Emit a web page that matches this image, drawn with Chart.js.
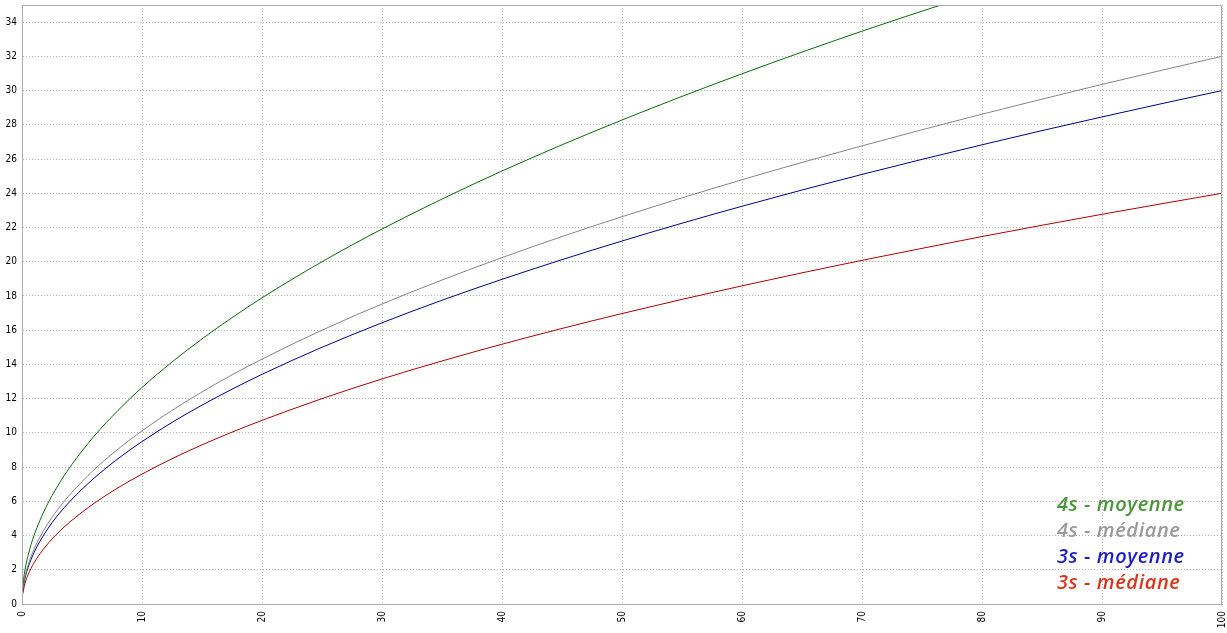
<!DOCTYPE html>
<html>
<head>
<meta charset="utf-8">
<script src="https://cdn.jsdelivr.net/npm/chart.js@4/dist/chart.umd.min.js"></script>
<style>
  html, body { margin: 0; padding: 0; background: #fff; }
  #wrap { width: 1227px; height: 633px; }
</style>
</head>
<body>
<div id="wrap"><canvas id="chart" width="1227" height="633"></canvas></div>
<script>
// == données == //
const X_VALUES = [0, 0.25, 0.5, 1, 2, 3, 4, 6, 8, 10, 12.5, 15, 17.5, 20, 25, 30, 35, 40, 45, 50, 55, 60, 65, 70, 75, 80, 85, 90, 95, 100];

const MOY_4S = [0.8, 2.0, 2.83, 4.0, 5.66, 6.93, 8.0, 9.8, 11.31, 12.65, 14.14, 15.49, 16.73, 17.89, 20.0, 21.91, 23.66, 25.3, 26.83, 28.28, 29.66, 30.98, 32.25, 33.47, 34.64, 35.78, 36.88, 37.95, 38.99, 40.0];
const MED_4S = [0.6, 1.6, 2.26, 3.2, 4.53, 5.54, 6.4, 7.84, 9.05, 10.12, 11.31, 12.39, 13.39, 14.31, 16.0, 17.53, 18.93, 20.24, 21.47, 22.63, 23.73, 24.79, 25.8, 26.77, 27.71, 28.62, 29.5, 30.36, 31.19, 32.0];
const MOY_3S = [0.5, 1.5, 2.12, 3.0, 4.24, 5.2, 6.0, 7.35, 8.49, 9.49, 10.61, 11.62, 12.55, 13.42, 15.0, 16.43, 17.75, 18.97, 20.12, 21.21, 22.25, 23.24, 24.19, 25.1, 25.98, 26.83, 27.66, 28.46, 29.24, 30.0];
const MED_3S = [0.4, 1.2, 1.7, 2.4, 3.39, 4.16, 4.8, 5.88, 6.79, 7.59, 8.49, 9.3, 10.04, 10.73, 12.0, 13.15, 14.2, 15.18, 16.1, 16.97, 17.8, 18.59, 19.35, 20.08, 20.78, 21.47, 22.13, 22.77, 23.39, 24.0];

const SERIES_NAMES = ['4s - moyenne', '4s - médiane', '3s - moyenne', '3s - médiane'];
const LINE_COLORS = ['#0a6a0a', '#858585', '#00008a', '#b00000'];
const TEXT_COLORS = ['#4a963a', '#9a9a9a', '#1e1ec8', '#d8361c'];

const TICK_FONT = { family: '"DejaVu Sans Condensed", "DejaVu Sans", sans-serif', size: 10 };

function toPoints(values) {
  return X_VALUES.map((x, i) => ({ x: x, y: values[i] }));
}

const ALL_SERIES = [MOY_4S, MED_4S, MOY_3S, MED_3S];

// pas de marge automatique autour des axes
function noPadding(axis) {
  axis.paddingTop = 0;
  axis.paddingBottom = 0;
  axis.paddingLeft = 0;
  axis.paddingRight = 0;
}

// == légende dans la zone du graphique == //
const legendInside = {
  id: 'legendInside',
  afterDraw(chart) {
    const ctx = chart.ctx;
    const area = chart.chartArea;
    ctx.save();
    // bordure haut / droite
    ctx.strokeStyle = '#adadad';
    ctx.lineWidth = 1;
    ctx.strokeRect(area.left + 0.5, area.top + 0.5, area.right - area.left - 1, area.bottom - area.top);
    ctx.font = 'italic 600 20px "Open Sans"';
    ctx.letterSpacing = '0.6px';
    ctx.textAlign = 'left';
    ctx.textBaseline = 'alphabetic';
    SERIES_NAMES.forEach((name, i) => {
      ctx.fillStyle = TEXT_COLORS[i];
      ctx.fillText(name, 1057, 511 + i * 26);
    });
    ctx.restore();
  }
};

new Chart(document.getElementById('chart'), {
  type: 'line',
  data: {
    datasets: ALL_SERIES.map((s, i) => ({
      label: SERIES_NAMES[i],
      data: toPoints(s),
      borderColor: LINE_COLORS[i],
      borderWidth: 1,
      pointRadius: 0,
      cubicInterpolationMode: 'monotone',
      fill: false
    }))
  },
  options: {
    responsive: false,
    animation: false,
    layout: { padding: { top: 5, right: 5, left: 0, bottom: 0 } },
    plugins: {
      legend: { display: false },
      tooltip: { enabled: false }
    },
    scales: {
      x: {
        type: 'linear',
        min: 0,
        max: 100,
        afterFit: (axis) => { axis.height = 29; noPadding(axis); },
        ticks: {
          stepSize: 10,
          minRotation: 90,
          maxRotation: 90,
          padding: 7,
          color: '#000',
          font: TICK_FONT
        },
        grid: {
          color: '#b4b4b4',
          drawTicks: false
        },
        border: { color: '#adadad', dash: [1, 2], display: true }
      },
      y: {
        min: 0,
        max: 35,
        afterFit: (axis) => { axis.width = 22; noPadding(axis); },
        afterBuildTicks: (axis) => { axis.ticks = axis.ticks.filter((t) => t.value <= 34); },
        ticks: {
          stepSize: 2,
          padding: 5,
          color: '#000',
          font: TICK_FONT
        },
        grid: {
          color: '#b4b4b4',
          drawTicks: false
        },
        border: { color: '#adadad', dash: [1, 2], display: true }
      }
    }
  },
  plugins: [legendInside]
});
</script>
</body>
</html>
